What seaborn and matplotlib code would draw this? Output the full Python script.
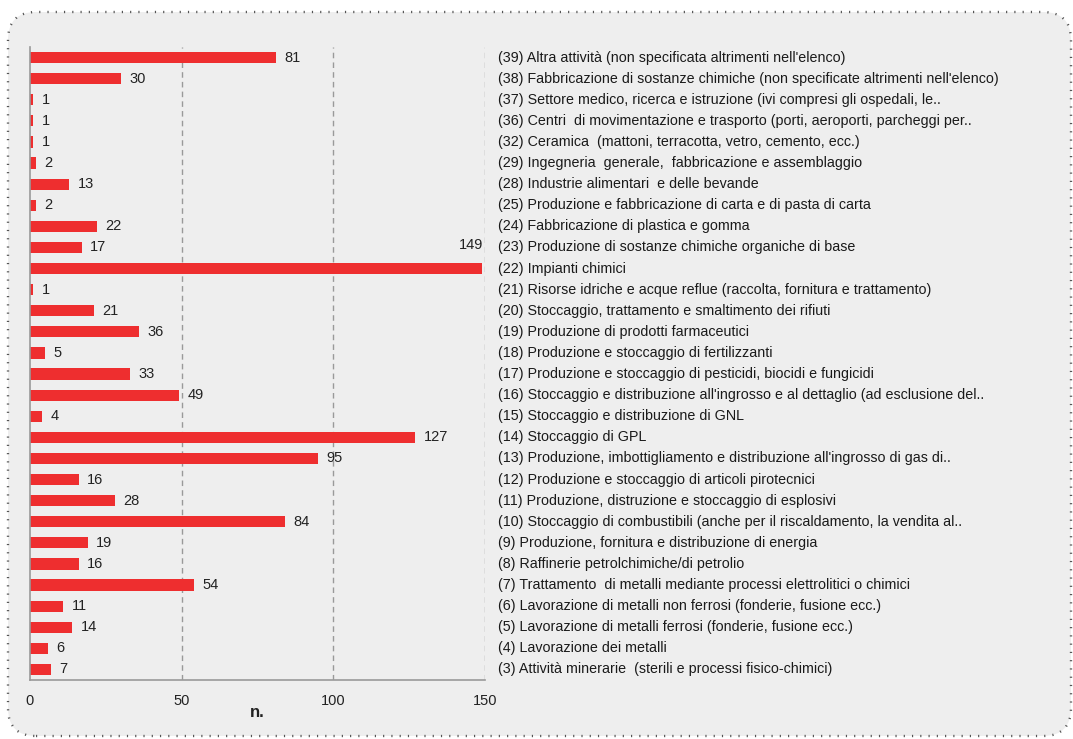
import matplotlib
matplotlib.use("Agg")
import matplotlib.pyplot as plt
import seaborn as sns
import pandas as pd
from matplotlib.patches import FancyBboxPatch
import matplotlib.transforms as mtransforms

categories = [
    "(39) Altra attività (non specificata altrimenti nell'elenco)",
    "(38) Fabbricazione di sostanze chimiche (non specificate altrimenti nell'elenco)",
    "(37) Settore medico, ricerca e istruzione (ivi compresi gli ospedali, le..",
    "(36) Centri  di movimentazione e trasporto (porti, aeroporti, parcheggi per..",
    "(32) Ceramica  (mattoni, terracotta, vetro, cemento, ecc.)",
    "(29) Ingegneria  generale,  fabbricazione e assemblaggio",
    "(28) Industrie alimentari  e delle bevande",
    "(25) Produzione e fabbricazione di carta e di pasta di carta",
    "(24) Fabbricazione di plastica e gomma",
    "(23) Produzione di sostanze chimiche organiche di base",
    "(22) Impianti chimici",
    "(21) Risorse idriche e acque reflue (raccolta, fornitura e trattamento)",
    "(20) Stoccaggio, trattamento e smaltimento dei rifiuti",
    "(19) Produzione di prodotti farmaceutici",
    "(18) Produzione e stoccaggio di fertilizzanti",
    "(17) Produzione e stoccaggio di pesticidi, biocidi e fungicidi",
    "(16) Stoccaggio e distribuzione all'ingrosso e al dettaglio (ad esclusione del..",
    "(15) Stoccaggio e distribuzione di GNL",
    "(14) Stoccaggio di GPL",
    "(13) Produzione, imbottigliamento e distribuzione all'ingrosso di gas di..",
    "(12) Produzione e stoccaggio di articoli pirotecnici",
    "(11) Produzione, distruzione e stoccaggio di esplosivi",
    "(10) Stoccaggio di combustibili (anche per il riscaldamento, la vendita al..",
    "(9) Produzione, fornitura e distribuzione di energia",
    "(8) Raffinerie petrolchimiche/di petrolio",
    "(7) Trattamento  di metalli mediante processi elettrolitici o chimici",
    "(6) Lavorazione di metalli non ferrosi (fonderie, fusione ecc.)",
    "(5) Lavorazione di metalli ferrosi (fonderie, fusione ecc.)",
    "(4) Lavorazione dei metalli",
    "(3) Attività minerarie  (sterili e processi fisico-chimici)",
]
values = [81, 30, 1, 1, 1, 2, 13, 2, 22, 17, 149, 1, 21, 36, 5, 33, 49, 4,
          127, 95, 16, 28, 84, 19, 16, 54, 11, 14, 6, 7]
x_ticks = [0, 50, 100, 150]
x_label = "n."

df = pd.DataFrame({"cat": categories, "val": values})

sns.set_theme(style="white")
plt.rcParams["font.family"] = ["Liberation Sans", "DejaVu Sans"]

fig = plt.figure(figsize=(10.73, 7.39), dpi=100)
fig.patch.set_facecolor("white")

# rounded dotted frame (pixel coords)
frame = FancyBboxPatch((8, 3), 1063, 724,
                       boxstyle="round,pad=0,rounding_size=28",
                       facecolor="#eeeeee", edgecolor="#555555",
                       linewidth=1.7, linestyle=(0, (0.5, 3.0)),
                       transform=None, zorder=-5)
fig.add_artist(frame)

ax = fig.add_axes([30 / 1073, 1 - 680 / 739, 455 / 1073, (680 - 47) / 739])
ax.set_facecolor("none")

sns.barplot(data=df, x="val", y="cat", order=categories, color="#EE2E2F",
            width=0.53, saturation=1, ax=ax, orient="h", linewidth=0,
            edgecolor="none")

ax.set_xlim(0, 150)
ax.set_ylim(len(categories) - 0.5, -0.5)
ax.set_xticks(x_ticks)
ax.set_xticklabels([str(t) for t in x_ticks], fontsize=10.5, color="#222222")
ax.tick_params(axis="x", length=4, width=1, color="#999999", pad=6, direction="out")
ax.set_xlabel(x_label, fontsize=12, fontweight="bold", color="#222222", labelpad=-2)
ax.set_ylabel("")

# grid
for t in x_ticks[1:]:
    ax.axvline(t, color="#999999", linestyle=(0, (4, 3)), linewidth=1, zorder=0)

# y ticks at category boundaries
ax.set_yticks([i - 0.5 for i in range(len(categories) + 1)])
ax.set_yticklabels([])
ax.tick_params(axis="y", length=4, width=1, color="#999999", direction="out")

for s in ["top", "right"]:
    ax.spines[s].set_visible(False)
for s in ["left", "bottom"]:
    ax.spines[s].set_color("#999999")
    ax.spines[s].set_linewidth(1.2)

# category labels on the right
trans = mtransforms.blended_transform_factory(ax.transAxes, ax.transData)
for i, c in enumerate(categories):
    ax.text(1.028, i, c, transform=trans, ha="left", va="center",
            fontsize=10.3, color="#1a1a1a", clip_on=False)

# value labels
vmax = max(values)
for i, v in enumerate(values):
    if v == vmax:
        ax.text(v + 0.5, i - 1.1, str(v), ha="right", va="center",
                fontsize=10.5, color="#222222", clip_on=False)
    else:
        ax.text(v + 2.8, i, str(v), ha="left", va="center",
                fontsize=10.5, color="#222222")

fig.savefig("out.png", dpi=100, facecolor="white")
